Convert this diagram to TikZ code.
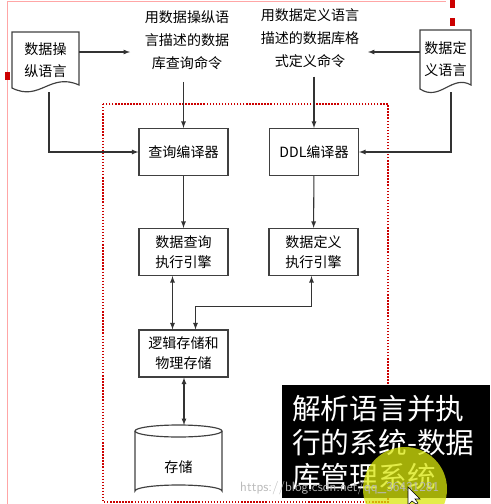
\documentclass[tikz,border=0pt]{standalone}
\usepackage{fontspec}
\newfontfamily\cjk{Noto Sans CJK SC}
\usetikzlibrary{calc}

\tikzset{
  box/.style={draw=black!75, line width=1pt, minimum width=2.67cm, minimum height=1.41cm,
    align=center, font=\cjk\fontsize{12}{17}\selectfont},
  note/.style={align=center, font=\cjk\fontsize{12}{19.5}\selectfont},
  doctext/.style={align=center, inner sep=0pt, font=\cjk\fontsize{12}{19}\selectfont},
  docline/.style={draw=black!75, line width=1pt},
  arr/.style={->, >=latex, line width=0.9pt, draw=black!80},
  twoarr/.style={<->, >=latex, line width=0.9pt, draw=black!80},
}

\begin{document}
\begin{tikzpicture}[x=0.03cm, y=-0.03cm]
\useasboundingbox (0,0) rectangle (490,504);
% slide border
\draw[red!35, line width=0.8pt] (7,504) -- (7,1) -- (446,1);
\fill[red!80!black] (5,72) rectangle (10,80);
\fill[red!80!black] (450,0) rectangle (455,8);
\fill[red!80!black] (450,18) rectangle (455,26);
% dbms frame
\draw[red!80!black, line width=1.6pt, dash pattern=on 1.2pt off 1.4pt] (103,104) rectangle (388,502);

% languages
\draw[docline] (12,32) -- (79,32) -- (79,85) .. controls (50,72) and (40,102) .. (12,88) -- cycle;
\node[doctext, minimum width=2.01cm, minimum height=1.68cm] (doc1) at (45.5,60) {数据操\\纵语言};
\draw[docline] (420,30) -- (471,30) -- (471,85) .. controls (452,74) and (440,102) .. (420,89) -- cycle;
\node[doctext, minimum width=1.53cm, minimum height=1.74cm] (doc2) at (445.5,59) {数据定\\义语言};

\node[note] (t1) at (187,40) {用数据操纵语\\言描述的数据\\库查询命令};
\node[note] (t2) at (310,38) {用数据定义语言\\描述的数据库格\\式定义命令};
\coordinate (a1) at (130,52);
\coordinate (a2) at (368,52);

% components
\node[box] (qc) at (183.5,152) {查询编译器};
\node[box] (ddl) at (314,152) {DDL编译器};
\node[box] (qe) at (183.5,252) {数据查询\\执行引擎};
\node[box] (de) at (313.5,252) {数据定义\\执行引擎};
\node[box] (ls) at (183.5,353.5) {逻辑存储和\\物理存储};

% storage
\draw[docline] (135,431) -- (135,491) arc (180:360:43.5 and 6) -- (222,431);
\draw[docline] (178.5,431) ellipse (43.5 and 6);
\node[font=\cjk\fontsize{12}{15}\selectfont] (st) at (178.5,467) {存储};
\coordinate (sttop) at (184,425);

% connectors
\draw[arr] (doc1.east |- a1) -- (a1);
\draw[arr] (doc2.west |- a2) -- (a2);
\draw[arr] ($(doc1.south)+(3.5,4)$) |- (qc.west);
\draw[arr] ($(doc2.south)+(5.5,4)$) |- (ddl.east);
\draw[arr, shorten <=0.25cm] (qc.north |- t1.south) -- (qc.north);
\draw[arr, shorten <=0.15cm] (ddl.north |- t2.south) -- (ddl.north);
\draw[arr] (qc) -- (qe);
\draw[arr] (ddl) -- (de);
\draw[twoarr] ($(qe.south)+(-11,0)$) -- ($(ls.north)+(-11,0)$);
\draw[twoarr] ($(de.south)+(-2,0)$) -- ++(0,30) -| ($(ls.north)+(12,0)$);
\draw[twoarr] (ls.south -| sttop) -- (sttop);

% caption
\fill[black] (282,385) rectangle (490,498);
\node[anchor=west, align=left, text=white, inner sep=0pt,
  font=\cjk\fontsize{24.5}{29}\selectfont] (cap) at (292,443)
  {解析语言并执\\行的系统-数据\\库管理系统};
\fill[yellow!85!green, opacity=0.75] (405,489) circle (42);
\node[anchor=west, inner sep=0pt, text=gray!55, font=\sffamily\fontsize{11.5}{13}\selectfont]
  (wm) at (240,488) {https://blog.csdn.net/qq\_36431281};
\draw[fill=white, draw=black, line width=0.5pt] (408,487) -- (408,505) -- (412,501) -- (416,504) -- (418,503) -- (415,499) -- (420,499) -- cycle;
\end{tikzpicture}
\end{document}
